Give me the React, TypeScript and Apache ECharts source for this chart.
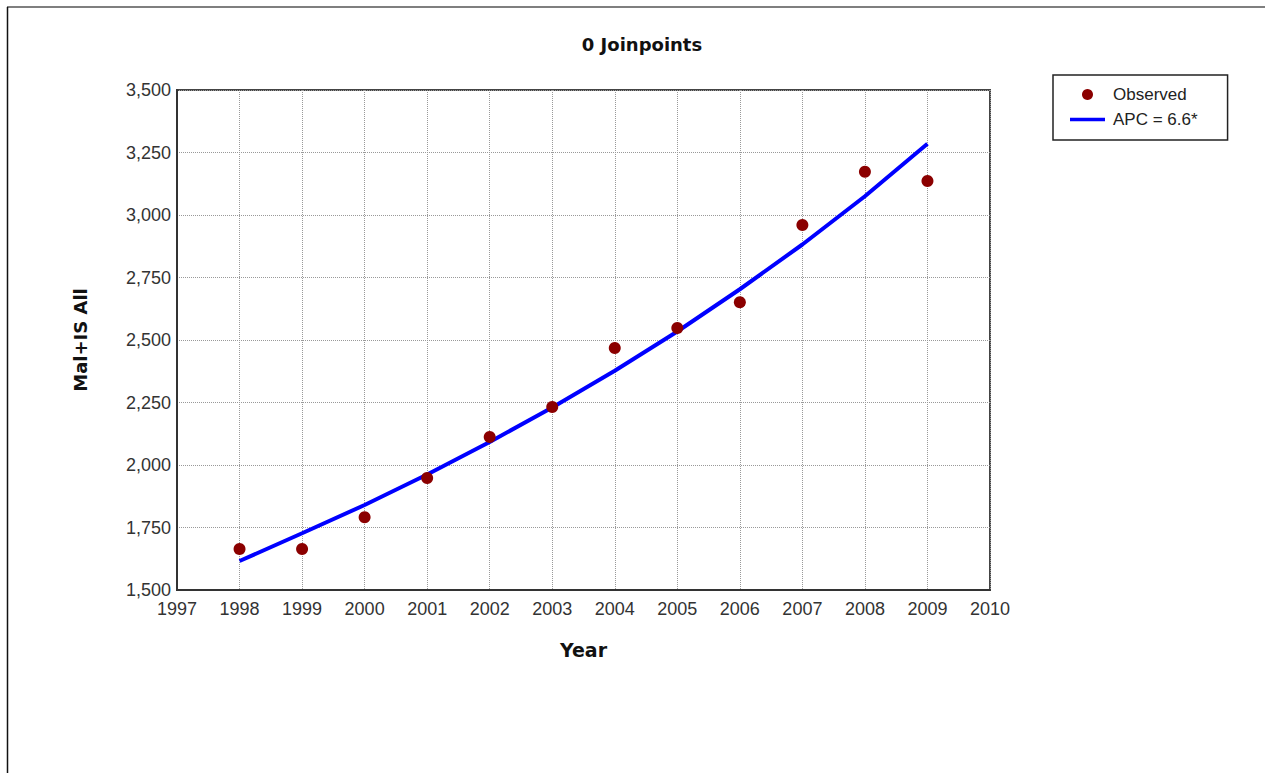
import React, { useEffect, useRef } from "react";
import * as echarts from "echarts";

const years = [1998, 1999, 2000, 2001, 2002, 2003, 2004, 2005, 2006, 2007, 2008, 2009];
const observed = [1664, 1664, 1791, 1948, 2112, 2232, 2468, 2548, 2651, 2960, 3173, 3136];
const modeled = [1616, 1727, 1840, 1962, 2092, 2230, 2377, 2534, 2703, 2882, 3075, 3285];
const titleText = "0 Joinpoints";
const xName = "Year";
const yName = "Mal+IS All";
const observedName = "Observed";
const fitName = "APC = 6.6*";

export default function App() {
  const ref = useRef<HTMLDivElement>(null);
  useEffect(() => {
    if (!ref.current) return;
    const chart = echarts.init(ref.current, null, { renderer: "svg" });
    const labelFont = { fontFamily: "Liberation Sans, Arial, sans-serif", fontSize: 18, color: "#333" };
    chart.setOption({
      animation: false,
      backgroundColor: "#fff",
      title: {
        text: titleText,
        left: 637,
        top: 30,
        textAlign: "center",
        textStyle: { fontFamily: "DejaVu Sans", fontWeight: "bold", fontSize: 18, color: "#111" },
      },
      grid: {
        left: 177,
        top: 90,
        right: 275,
        bottom: 183,
        show: true,
        borderColor: "#444",
        borderWidth: 2,
        backgroundColor: "transparent",
      },
      legend: {
        orient: "vertical",
        left: 1053,
        top: 75,
        padding: [11, 30, 12, 17],
        itemGap: 8,
        itemWidth: 35,
        itemHeight: 11,
        borderColor: "#222",
        borderWidth: 1.5,
        textStyle: { fontFamily: "Liberation Sans, Arial, sans-serif", fontSize: 17, color: "#222", padding: [0, 0, 0, 3] },
        data: [
          { name: observedName, icon: "circle" },
          { name: fitName, icon: "path://M0,0 L35,0 L35,3.5 L0,3.5 Z" },
        ],
      },
      xAxis: {
        type: "value",
        min: 1997,
        max: 2010,
        interval: 1,
        name: xName,
        nameLocation: "middle",
        nameGap: 50,
        nameTextStyle: { fontFamily: "DejaVu Sans", fontWeight: "bold", fontSize: 19, color: "#111" },
        axisLine: { show: true, lineStyle: { color: "#333", width: 2 } },
        axisTick: { show: false },
        axisLabel: { ...labelFont, margin: 10, formatter: (v: number) => String(v) },
        splitLine: { show: true, lineStyle: { type: "dotted", color: "#999", width: 1 } },
      },
      yAxis: {
        type: "value",
        min: 1500,
        max: 3500,
        interval: 250,
        name: yName,
        nameLocation: "middle",
        nameGap: 88,
        nameTextStyle: { fontFamily: "DejaVu Sans", fontWeight: "bold", fontSize: 18, color: "#111" },
        axisLine: { show: true, lineStyle: { color: "#333", width: 2 } },
        axisTick: { show: false },
        axisLabel: { ...labelFont, margin: 6, formatter: (v: number) => v.toLocaleString("en-US") },
        splitLine: { show: true, lineStyle: { type: "dotted", color: "#999", width: 1 } },
      },
      series: [
        {
          name: fitName,
          type: "line",
          data: years.map((y, i) => [y, modeled[i]]),
          showSymbol: false,
          symbol: "none",
          lineStyle: { color: "#0000ff", width: 4 },
          itemStyle: { color: "#0000ff" },
          z: 2,
        },
        {
          name: observedName,
          type: "scatter",
          data: years.map((y, i) => [y, observed[i]]),
          symbolSize: 12,
          itemStyle: { color: "#8b0000", opacity: 1 },
          z: 3,
        },
      ],
      graphic: [
        { type: "line", shape: { x1: 7, y1: 7, x2: 1265, y2: 7 }, style: { stroke: "#555", lineWidth: 1.5 } },
        { type: "line", shape: { x1: 7.5, y1: 7, x2: 7.5, y2: 773 }, style: { stroke: "#111", lineWidth: 1.5 } },
      ],
    });
    return () => chart.dispose();
  }, []);
  return <div ref={ref} style={{ position: "absolute", left: 0, top: 0, width: 1265, height: 773 }} />;
}
